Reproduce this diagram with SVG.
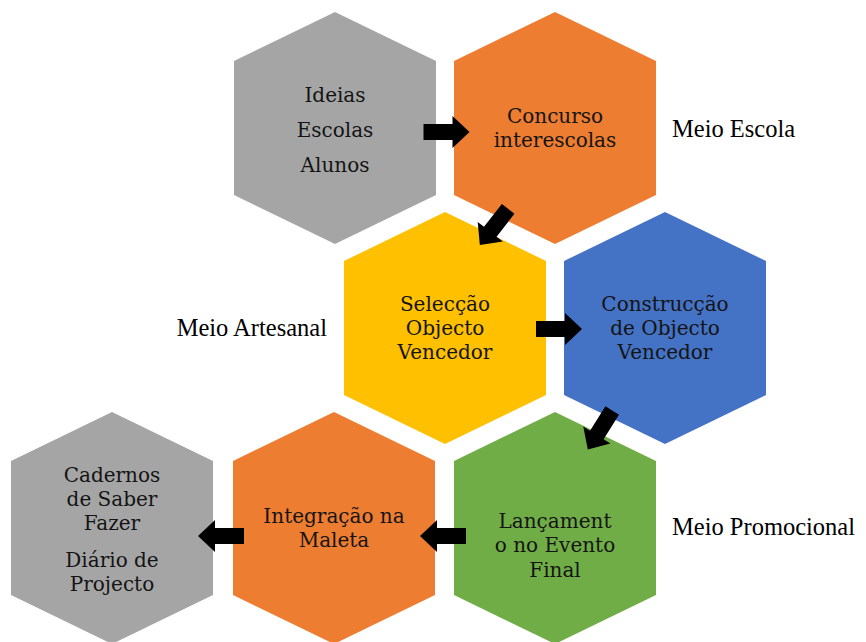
<svg xmlns="http://www.w3.org/2000/svg" width="866" height="642" viewBox="0 0 866 642">
<style>
.t{font-family:"DejaVu Serif","Liberation Serif",serif;font-size:20px;fill:#141414;text-anchor:middle}
.l{font-family:"Liberation Serif","Times New Roman",serif;font-size:24.5px;fill:#000}
.gray{fill:#A5A5A5}.orange{fill:#ED7D31}.yellow{fill:#FFC000}.blue{fill:#4472C4}.green{fill:#70AD47}
</style>
<defs>
<polygon id="hex" points="0,-116 101,-67 101,67 0,116 -101,67 -101,-67"/>
<polygon id="arr" points="-23,-8 6,-8 6,-16 23,0 6,16 6,8 -23,8" fill="#000"/>
</defs>
<rect width="866" height="642" fill="#fff"/>
<g id="n1"><use href="#hex" class="gray" x="335" y="128"/>
<text class="t" x="335" y="102">Ideias</text><text class="t" x="335" y="137">Escolas</text><text class="t" x="335" y="172">Alunos</text></g>
<g id="n2"><use href="#hex" class="orange" x="555" y="128"/>
<text class="t" x="555" y="123">Concurso</text><text class="t" x="555" y="147">interescolas</text></g>
<g id="n3"><use href="#hex" class="yellow" x="445" y="328"/>
<text class="t" x="445" y="311">Selecção</text><text class="t" x="445" y="335">Objecto</text><text class="t" x="445" y="359">Vencedor</text></g>
<g id="n4"><use href="#hex" class="blue" x="665" y="328"/>
<text class="t" x="665" y="311">Construcção</text><text class="t" x="665" y="335">de Objecto</text><text class="t" x="665" y="359">Vencedor</text></g>
<g id="n5"><use href="#hex" class="green" x="555" y="528"/>
<text class="t" x="555" y="528">Lançament</text><text class="t" x="555" y="552">o no Evento</text><text class="t" x="555" y="577">Final</text></g>
<g id="n6"><use href="#hex" class="orange" x="334" y="528"/>
<text class="t" x="334" y="523">Integração na</text><text class="t" x="334" y="547">Maleta</text></g>
<g id="n7"><use href="#hex" class="gray" x="112" y="528"/>
<text class="t" x="112" y="482">Cadernos</text><text class="t" x="112" y="506">de Saber</text><text class="t" x="112" y="530">Fazer</text><text class="t" x="112" y="567">Diário de</text><text class="t" x="112" y="591">Projecto</text></g>
<g id="labels">
<text class="l" x="672" y="137">Meio Escola</text>
<text class="l" x="327" y="336" text-anchor="end">Meio Artesanal</text>
<text class="l" x="672" y="535">Meio Promocional</text>
</g>
<g id="connectors">
<use href="#arr" transform="translate(446.5,132)"/>
<use href="#arr" transform="translate(494,227) rotate(128)"/>
<use href="#arr" transform="translate(559,329)"/>
<use href="#arr" transform="translate(600,430) rotate(122)"/>
<use href="#arr" transform="translate(443,536) rotate(180)"/>
<use href="#arr" transform="translate(221,536) rotate(180)"/>
</g>
</svg>
